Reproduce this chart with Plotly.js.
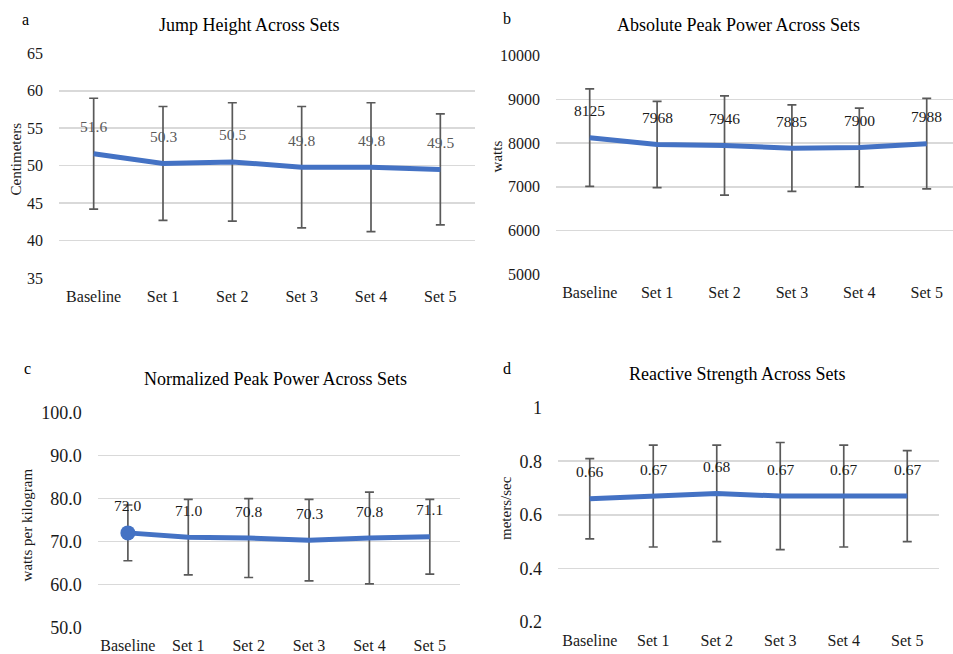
<!DOCTYPE html>
<html>
<head>
<meta charset="utf-8">
<script src="https://cdn.plot.ly/plotly-3.0.1.min.js"></script>
<style>
  html, body { margin: 0; padding: 0; background: #fff; }
  #chart { width: 953px; height: 654px; }
</style>
</head>
<body>
<div id="chart"></div>
<script>
// ---- Data ----
const categories = ["Baseline", "Set 1", "Set 2", "Set 3", "Set 4", "Set 5"];

const jumpMean = [51.6, 50.3, 50.5, 49.8, 49.8, 49.5];
const jumpSD   = [7.4, 7.6, 7.9, 8.1, 8.6, 7.4];

const powerMean = [8125, 7968, 7946, 7885, 7900, 7988];
const powerSD   = [1115, 985, 1136, 990, 900, 1035];

const normMean = [72.0, 71.0, 70.8, 70.3, 70.8, 71.1];
const normSD   = [6.5, 8.8, 9.2, 9.5, 10.7, 8.7];

const rsiMean = [0.66, 0.67, 0.68, 0.67, 0.67, 0.67];
const rsiSD   = [0.15, 0.19, 0.18, 0.20, 0.19, 0.17];

const jumpTicks  = [35, 40, 45, 50, 55, 60, 65];
const powerTicks = [5000, 6000, 7000, 8000, 9000, 10000];
const normTicks  = [50, 60, 70, 80, 90, 100];
const rsiTicks   = [0.2, 0.4, 0.6, 0.8, 1];

const panelTitles = ["Jump Height Across Sets", "Absolute Peak Power Across Sets",
                     "Normalized Peak Power Across Sets", "Reactive Strength Across Sets"];
const yTitles = ["Centimeters", "watts", "watts per kilogram", "meters/sec"];
const panelLetters = ["a", "b", "c", "d"];

// ---- Styles ----
const W = 953, H = 654;
const FONT = "'Liberation Serif', 'Times New Roman', Times, serif";
const BLUE = "#4472C4";
const ERR = "#595959";
const GRID = "#d9d9d9";

function px(x) { return x / W; }
function py(y) { return 1 - y / H; }

const panels = [
  { mean: jumpMean,  sd: jumpSD,  ticks: jumpTicks,  range: [35, 65],
    fmt: v => v.toFixed(1), labelColor: "#595959", tickSize: 16,
    xd: [59, 475], yd: [53.3, 278], xr: [-0.5, 5.5], firstMarker: false,
    title: [249.5, 25], letter: [25, 19], ytitle: [16, 159.5] },
  { mean: powerMean, sd: powerSD, ticks: powerTicks, range: [5000, 10000],
    fmt: v => String(v), labelColor: "#1a1a1a", tickSize: 16,
    xd: [556, 953], yd: [55.7, 274.3], xr: [-0.5, 5.39], firstMarker: false,
    title: [738.8, 25], letter: [506.7, 18], ytitle: [496.7, 156.7] },
  { mean: normMean,  sd: normSD,  ticks: normTicks,  range: [50, 100],
    fmt: v => v.toFixed(1), labelColor: "#1a1a1a", tickSize: 18, tickFmt: true,
    xd: [97.7, 460], yd: [412.7, 627.3], xr: [-0.5, 5.5], firstMarker: true,
    title: [275.8, 379], letter: [27.7, 369], ytitle: [26.7, 524.7] },
  { mean: rsiMean,   sd: rsiSD,   ticks: rsiTicks,   range: [0.2, 1],
    fmt: v => v.toFixed(2), labelColor: "#1a1a1a", tickSize: 18,
    xd: [558, 939], yd: [407.7, 622], xr: [-0.5, 5.5], firstMarker: false,
    title: [736.7, 374], letter: [507, 369], ytitle: [506, 508] }
];

const traces = [];
const annotations = [];
const layout = {
  width: W, height: H,
  margin: { l: 0, r: 0, t: 0, b: 0 },
  paper_bgcolor: "#fff", plot_bgcolor: "#fff",
  showlegend: false,
  font: { family: FONT, color: "#1a1a1a" }
};

panels.forEach((p, i) => {
  const n = i + 1;
  const xa = n === 1 ? "x" : "x" + n;
  const ya = n === 1 ? "y" : "y" + n;
  const xKey = n === 1 ? "xaxis" : "xaxis" + n;
  const yKey = n === 1 ? "yaxis" : "yaxis" + n;

  traces.push({
    type: "scatter", mode: "lines",
    x: categories, y: p.mean, xaxis: xa, yaxis: ya,
    line: { color: BLUE, width: 5 },
    error_y: { type: "data", array: p.sd, visible: true, color: ERR, thickness: 1.7, width: 4.5 },
    hoverinfo: "skip", cliponaxis: false
  });
  if (p.firstMarker) {
    traces.push({
      type: "scatter", mode: "markers",
      x: categories.slice(0, 1), y: p.mean.slice(0, 1), xaxis: xa, yaxis: ya,
      marker: { color: BLUE, size: 15, opacity: 1, line: { width: 0 } },
      hoverinfo: "skip", cliponaxis: false
    });
  }

  layout[xKey] = {
    domain: [px(p.xd[0]), px(p.xd[1])],
    anchor: ya, type: "category", range: p.xr,
    showgrid: false, zeroline: false, showline: false, ticks: "",
    tickfont: { family: FONT, size: 16, color: "#1a1a1a" },
    ticklabelstandoff: 7, fixedrange: true
  };
  layout[yKey] = {
    domain: [py(p.yd[1]), py(p.yd[0])],
    anchor: xa, range: p.range,
    tickmode: "array", tickvals: p.ticks,
    ticktext: p.ticks.map(v => p.tickFmt ? v.toFixed(1) : String(v)),
    showgrid: true, gridcolor: GRID, gridwidth: 1.6,
    zeroline: false, showline: false, ticks: "",
    tickfont: { family: FONT, size: p.tickSize, color: "#1a1a1a" },
    ticklabelstandoff: 15, fixedrange: true
  };

  p.mean.forEach((v, k) => {
    annotations.push({
      xref: xa, yref: ya, x: categories[k], y: v,
      text: p.fmt(v), showarrow: false, yshift: 27, yanchor: "middle",
      font: { family: FONT, size: 15.5, color: p.labelColor }
    });
  });

  annotations.push({
    xref: "paper", yref: "paper", x: px(p.title[0]), y: py(p.title[1]),
    xanchor: "center", yanchor: "middle", showarrow: false,
    text: panelTitles[i], font: { family: FONT, size: 18, color: "#000" }
  });
  annotations.push({
    xref: "paper", yref: "paper", x: px(p.letter[0]), y: py(p.letter[1]),
    xanchor: "center", yanchor: "middle", showarrow: false,
    text: panelLetters[i], font: { family: FONT, size: 16, color: "#000" }
  });
  annotations.push({
    xref: "paper", yref: "paper", x: px(p.ytitle[0]), y: py(p.ytitle[1]),
    xanchor: "center", yanchor: "middle", showarrow: false, textangle: -90,
    text: yTitles[i], font: { family: FONT, size: 15, color: "#1a1a1a" }
  });
});

layout.annotations = annotations;

Plotly.newPlot("chart", traces, layout, { staticPlot: true, displayModeBar: false });
</script>
</body>
</html>
